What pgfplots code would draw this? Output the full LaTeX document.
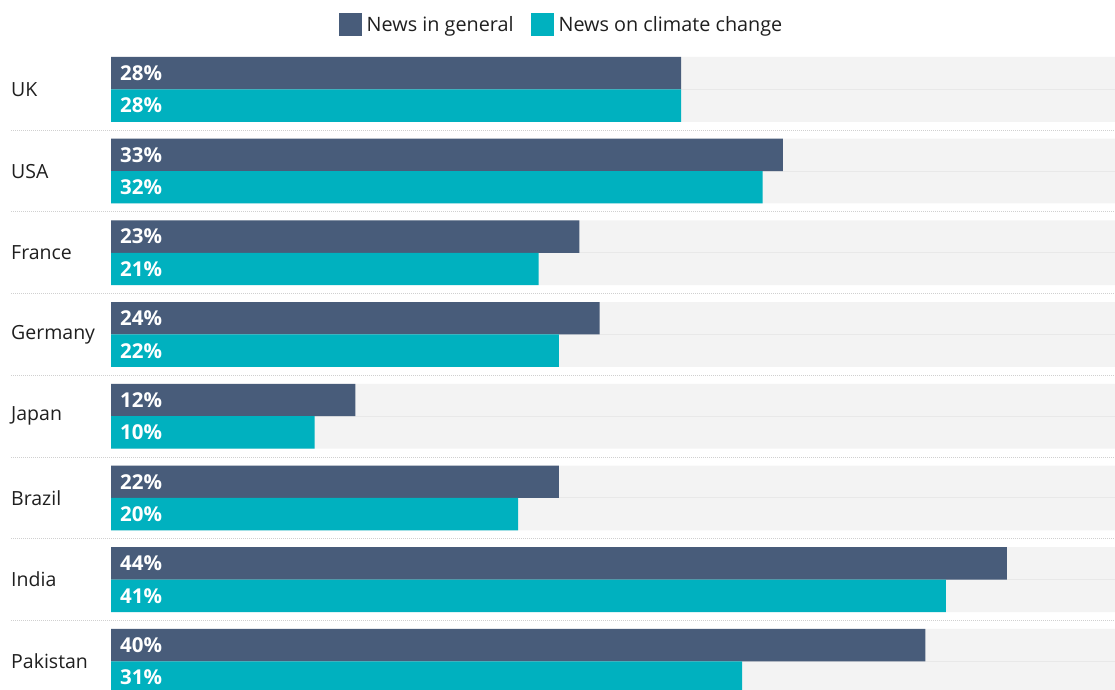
\documentclass[border=0pt]{standalone}
\usepackage{pgfplots}
\pgfplotsset{compat=1.18}
\usepackage{pgfplotstable}
\usepackage{fontspec}
\setmainfont{Open Sans}
\definecolor{cdark}{HTML}{485C7A}
\definecolor{cteal}{HTML}{00B1BF}
\definecolor{track}{HTML}{F3F3F3}
\definecolor{midline}{HTML}{E8E8E8}
\definecolor{sep}{HTML}{D0D0D0}
\pgfplotstableread{
idx country general climate
0 UK 28 28
1 USA 33 32
2 France 23 21
3 Germany 24 22
4 Japan 12 10
5 Brazil 22 20
6 India 44 41
7 Pakistan 40 31
}\datatable
\begin{document}
\begin{tikzpicture}
\path[use as bounding box] (0,0) rectangle (1115pt,689pt);
\begin{axis}[
  at={(0,0)}, anchor=south west,
  scale only axis, width=1115pt, height=689pt,
  xmin=-5.452, xmax=49.31,
  ymin=-1.094, ymax=7.339, y dir=reverse,
  axis line style={draw=none},
  tick style={draw=none},
  xtick=\empty,
  ytick={0,...,7},
  yticklabels={UK,USA,France,Germany,Japan,Brazil,India,Pakistan},
  major tick length=0pt,
  yticklabel style={anchor=west, inner sep=0pt, xshift=11pt, font=\fontsize{19.5}{22}\selectfont, text=black!88},
  legend style={at={(0.5,1)}, anchor=north, yshift=-11pt, xshift=3pt, draw=none, fill=none,
    legend columns=-1, font=\fontsize{19.8}{22}\selectfont, text=black!88,
    nodes={inner sep=0pt},
    /tikz/every odd column/.append style={column sep=5pt},
    /tikz/every even column/.append style={column sep=17pt}},
  legend cell align=left,
]
% tracks
\addplot[xbar, bar width=64.8pt, bar shift=0pt, fill=track, draw=none, forget plot]
  table[x expr=49.31, y=idx] {\datatable};
\addplot[midline, line width=1pt, forget plot, unbounded coords=jump] coordinates {
 (0,0) (49.31,0) (nan,nan) (0,1) (49.31,1) (nan,nan) (0,2) (49.31,2) (nan,nan)
 (0,3) (49.31,3) (nan,nan) (0,4) (49.31,4) (nan,nan) (0,5) (49.31,5) (nan,nan)
 (0,6) (49.31,6) (nan,nan) (0,7) (49.31,7)};
% separators
\addplot[sep, line width=1pt, dash pattern=on 1pt off 1pt, forget plot, unbounded coords=jump] coordinates {
 (-4.91,0.5) (49.31,0.5) (nan,nan) (-4.91,1.5) (49.31,1.5) (nan,nan) (-4.91,2.5) (49.31,2.5) (nan,nan)
 (-4.91,3.5) (49.31,3.5) (nan,nan) (-4.91,4.5) (49.31,4.5) (nan,nan) (-4.91,5.5) (49.31,5.5) (nan,nan)
 (-4.91,6.5) (49.31,6.5)};
% bars
\addplot[xbar, bar width=32.4pt, bar shift=16.2pt, fill=cdark, draw=none,
  legend image code/.code={\fill[cdark] (0pt,-11.5pt) rectangle (23pt,11.5pt);}]
  table[x=general, y=idx] {\datatable};
\addlegendentry{News in general}
\addplot[xbar, bar width=32.4pt, bar shift=-16.2pt, fill=cteal, draw=none,
  legend image code/.code={\fill[cteal] (0pt,-11.5pt) rectangle (23pt,11.5pt);}]
  table[x=climate, y=idx] {\datatable};
\addlegendentry{News on climate change}
% value labels
\addplot[draw=none, mark=none, forget plot, nodes near coords={\pgfplotspointmeta\%},
  point meta=explicit symbolic, nodes near coords style={anchor=west, inner sep=0pt, text=white, font=\fontsize{20.5}{22}\selectfont\bfseries}]
  table[x expr=0.44, y expr=\thisrow{idx}-0.198, meta=general] {\datatable};
\addplot[draw=none, mark=none, forget plot, nodes near coords={\pgfplotspointmeta\%},
  point meta=explicit symbolic, nodes near coords style={anchor=west, inner sep=0pt, text=white, font=\fontsize{20.5}{22}\selectfont\bfseries}]
  table[x expr=0.44, y expr=\thisrow{idx}+0.198, meta=climate] {\datatable};
\end{axis}
\end{tikzpicture}
\end{document}
